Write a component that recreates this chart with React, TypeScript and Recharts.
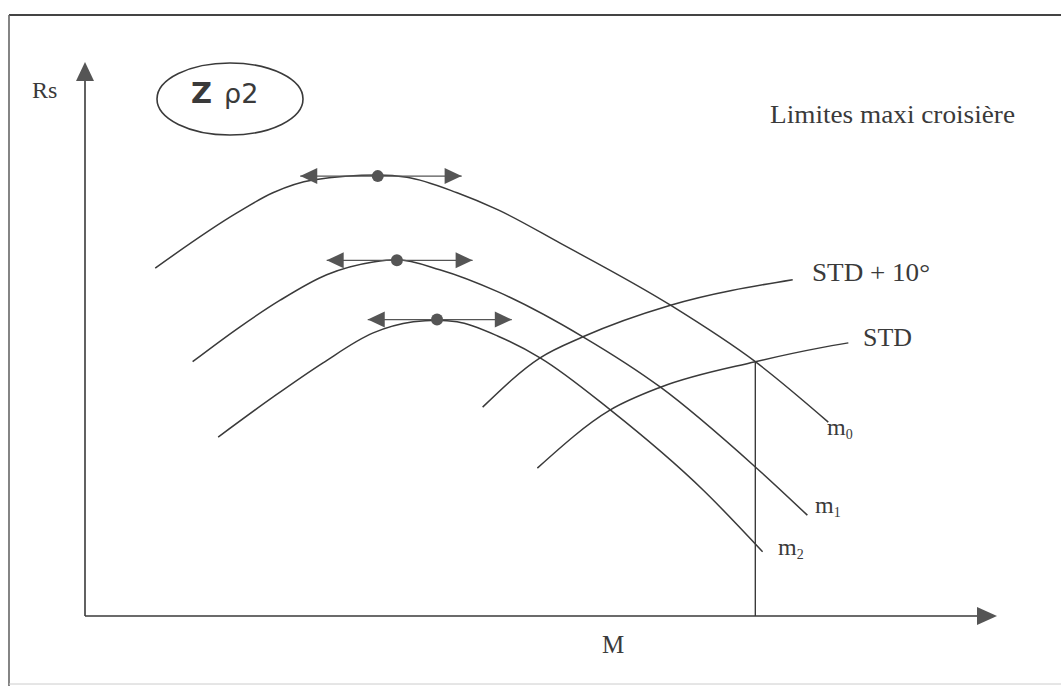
import { ComposedChart, Line, ReferenceDot, ReferenceLine, XAxis, YAxis } from 'recharts'

// Mach (M) and specific range (Rs), both on an arbitrary 0–100 scale
const M0_M = [7.7, 16.7, 20.6, 25.0, 32.1, 35.3, 40.8, 45.3, 52.1, 64.2, 73.5, 81.5]
const M0_RS = [62.8, 72.8, 76.4, 78.7, 79.6, 79.2, 76.4, 73.3, 67.3, 56.1, 45.9, 35.0]

const M1_M = [11.8, 17.0, 21.4, 26.5, 31.6, 34.2, 38.9, 45.3, 54.6, 63.1, 73.5, 79.2]
const M1_RS = [45.9, 52.2, 57.0, 61.6, 63.9, 64.3, 62.5, 58.5, 50.4, 41.3, 26.9, 18.2]

const M2_M = [14.6, 20.6, 26.1, 31.6, 36.0, 38.6, 40.8, 45.3, 49.9, 57.6, 67.8, 74.3]
const M2_RS = [32.3, 39.5, 45.7, 51.1, 53.1, 53.4, 53.1, 50.5, 46.6, 37.2, 22.7, 11.6]

const STD10_M = [43.6, 49.9, 54.6, 64.2, 77.6]
const STD10_RS = [37.7, 46.6, 50.4, 56.1, 60.7]

const STD_M = [49.6, 57.6, 63.1, 73.5, 80.6, 83.7]
const STD_RS = [26.7, 37.2, 41.3, 45.9, 48.4, 49.3]

// optimum (max Rs) for each mass, with the arrow span around it
const OPT_M = [32.1, 34.2, 38.6]
const OPT_RS = [79.4, 64.2, 53.5]
const ARROW_LEFT = [23.6, 26.5, 31.0]
const ARROW_RIGHT = [41.3, 42.5, 46.8]

// max cruise limit: m0 meets STD
const LIMIT_M = 73.5
const LIMIT_RS = 45.9

const toPoints = (m: number[], rs: number[]) => m.map((v, i) => ({ m: v, rs: rs[i] }))

const curves = [
  { key: 'm0', data: toPoints(M0_M, M0_RS) },
  { key: 'm1', data: toPoints(M1_M, M1_RS) },
  { key: 'm2', data: toPoints(M2_M, M2_RS) },
  { key: 'std10', data: toPoints(STD10_M, STD10_RS) },
  { key: 'std', data: toPoints(STD_M, STD_RS) },
]

const arrows = OPT_M.map((_, i) => [
  { m: ARROW_LEFT[i], rs: OPT_RS[i] },
  { m: ARROW_RIGHT[i], rs: OPT_RS[i] },
])

const INK = '#3a3a3a'
const ARROW_INK = '#555'
const SERIF = '"Liberation Serif", "Times New Roman", serif'

function ArrowHead(props: any) {
  const { cx, cy, index, key } = props
  if (cx == null || cy == null) return <g key={key} />
  const dir = index === 0 ? -1 : 1
  const pts = `${cx},${cy} ${cx - dir * 17},${cy - 8} ${cx - dir * 17},${cy + 8}`
  return <polygon key={key} points={pts} fill={ARROW_INK} />
}

function AxisArrow({ cx, cy, up }: any) {
  const pts = up
    ? `${cx},${cy} ${cx - 9},${cy + 19} ${cx + 9},${cy + 19}`
    : `${cx},${cy} ${cx - 20},${cy - 9} ${cx - 20},${cy + 9}`
  return <polygon points={pts} fill={ARROW_INK} />
}

export default function App() {
  return (
    <div style={{ position: 'relative', width: 1061, height: 686, background: '#fff' }}>
      <style>{'body{margin:0}'}</style>
      <ComposedChart width={1061} height={686} margin={{ top: 62, right: 64, bottom: 70, left: 85 }}>
        <XAxis type="number" dataKey="m" domain={[0, 100]} hide allowDataOverflow />
        <YAxis type="number" dataKey="rs" domain={[0, 100]} hide allowDataOverflow />
        <ReferenceLine segment={[{ x: 0, y: 0 }, { x: 98, y: 0 }]} stroke={INK} strokeWidth={1.6} />
        <ReferenceLine segment={[{ x: 0, y: 0 }, { x: 0, y: 97 }]} stroke={INK} strokeWidth={1.6} />
        <ReferenceDot x={100} y={0} ifOverflow="visible" shape={(p: any) => <AxisArrow {...p} />} />
        <ReferenceDot x={0} y={100} ifOverflow="visible" shape={(p: any) => <AxisArrow {...p} up />} />
        <ReferenceLine
          segment={[{ x: LIMIT_M, y: 0 }, { x: LIMIT_M, y: LIMIT_RS }]}
          stroke={INK}
          strokeWidth={1.4}
        />
        {curves.map((c) => (
          <Line
            key={c.key}
            data={c.data}
            dataKey="rs"
            type="monotone"
            stroke={INK}
            strokeWidth={1.5}
            dot={false}
            activeDot={false}
            isAnimationActive={false}
          />
        ))}
        {arrows.map((a, i) => (
          <Line
            key={`arrow${i}`}
            data={a}
            dataKey="rs"
            type="linear"
            stroke={ARROW_INK}
            strokeWidth={1.2}
            dot={(p: any) => <ArrowHead {...p} key={`ah${i}-${p.index}`} />}
            activeDot={false}
            isAnimationActive={false}
          />
        ))}
        {OPT_M.map((m, i) => (
          <ReferenceDot key={`opt${i}`} x={m} y={OPT_RS[i]} r={6} fill={ARROW_INK} stroke="none" />
        ))}
      </ComposedChart>

      <svg
        width={1061}
        height={686}
        style={{ position: 'absolute', left: 0, top: 0, pointerEvents: 'none' }}
        fontFamily={SERIF}
        fill={INK}
      >
        <line x1={9} y1={15} x2={1061} y2={15} stroke="#444" strokeWidth={2} />
        <line x1={9} y1={15} x2={9} y2={686} stroke="#666" strokeWidth={1.6} />
        <line x1={9} y1={684} x2={1061} y2={684} stroke="#ccc" strokeWidth={1} />

        <ellipse cx={230} cy={99} rx={73} ry={36} fill="none" stroke={INK} strokeWidth={1.6} />
        <text x={191} y={103} fontFamily='"DejaVu Sans", sans-serif' fontWeight="bold" fontSize={29}>
          Z
          <tspan dx={12} fontSize={27} fontWeight="normal">ρ2</tspan>
        </text>

        <text x={32} y={98} fontSize={24}>Rs</text>
        <text x={602} y={653} fontSize={25}>M</text>
        <text x={770} y={123} fontSize={25} textLength={245} lengthAdjust="spacingAndGlyphs">
          Limites maxi croisière
        </text>
        <text x={812} y={281} fontSize={25} textLength={118} lengthAdjust="spacingAndGlyphs">
          STD + 10°
        </text>
        <text x={863} y={346} fontSize={25} textLength={49} lengthAdjust="spacingAndGlyphs">
          STD
        </text>
        <text x={827} y={435} fontSize={24}>
          m<tspan fontSize={14} dy={4}>0</tspan>
        </text>
        <text x={815} y={513} fontSize={24}>
          m<tspan fontSize={14} dy={4}>1</tspan>
        </text>
        <text x={778} y={555} fontSize={24}>
          m<tspan fontSize={14} dy={4}>2</tspan>
        </text>
      </svg>
    </div>
  )
}
